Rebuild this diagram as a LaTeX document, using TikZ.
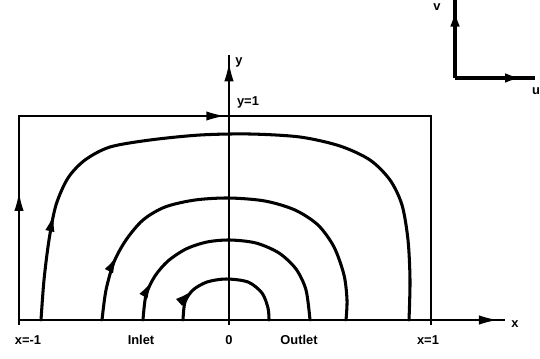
\documentclass[tikz,border=0pt]{standalone}
\usepackage{fontspec}
\setmainfont{Liberation Sans}
\usetikzlibrary{arrows.meta, decorations.markings}

\tikzset{
  wall/.style={line width=1.4pt},
  streamline/.style={line width=2.6pt, line join=round, line cap=round},
  inset/.style={line width=3.4pt},
  flowarrow/.style={postaction={decorate, decoration={markings,
      mark=at position #1 with {\arrow{Latex[length=16pt,width=8pt]}}}}},
  lbl/.style={font=\bfseries\fontsize{11}{12}\selectfont, inner sep=0pt}
}

\begin{document}
\begin{tikzpicture}[x=0.03cm, y=-0.03cm]
    \useasboundingbox (0,0) rectangle (540,358);

    % channel walls
    \draw[wall, flowarrow=0.16, flowarrow=0.5] (19,325) -- (19,116) -- (431,116) -- (431,325);

    % axes
    \draw[wall, flowarrow=0.985] (19,320) -- (505,320);
    \draw[wall, flowarrow=0.972] (229,325) -- (229,55);

    % streamlines
    \draw[streamline, flowarrow=0.17] plot[smooth, tension=0.5] coordinates {(41,320) (44,280) (49,240) (56,205) (68,178) (85,160) (110,147) (150,140) (200,135) (250,134) (300,137) (340,146) (370,160) (390,180) (402,205) (408,240) (410,280) (409,320)};
    \draw[streamline, flowarrow=0.17] plot[smooth, tension=0.5] coordinates {(102,320) (106,290) (114,262) (126,240) (143,220) (165,207) (195,200) (229,198) (265,201) (295,210) (318,225) (334,247) (344,275) (347,300) (346,320)};
    \draw[streamline, flowarrow=0.16] plot[smooth, tension=0.5] coordinates {(143,320) (146,295) (155,276) (168,261) (186,249) (207,242) (230,240) (256,243) (279,253) (296,269) (306,290) (310,320)};
    \draw[streamline, flowarrow=0.24] plot[smooth, tension=0.5] coordinates {(183,320) (185,302) (193,290) (207,282) (226,279) (248,282) (262,293) (268,308) (269,320)};

    % velocity components
    \coordinate (corner) at (455,78);
    \draw[inset, flowarrow=0.9] (corner) -- ++(0,-78);
    \draw[inset, flowarrow=0.86] (corner) -- ++(80,0);

    % labels
    \node[lbl] (xm) at (28,340) {x=-1};
    \node[lbl] (inlet) at (141,340) {Inlet};
    \node[lbl] (zero) at (229,340) {0};
    \node[lbl] (outlet) at (299,340) {Outlet};
    \node[lbl] (xp) at (428,340) {x=1};
    \node[lbl] (xlbl) at (515,324) {x};
    \node[lbl] (ylbl) at (239,62) {y};
    \node[lbl] (yone) at (248,102) {y=1};
    \node[lbl] (vlbl) at (437,7) {v};
    \node[lbl] (ulbl) at (536,91) {u};
\end{tikzpicture}
\end{document}
